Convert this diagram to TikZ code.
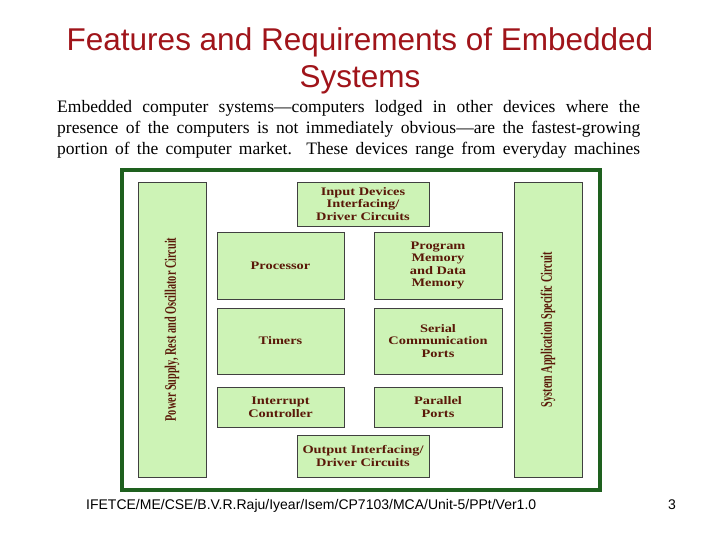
\documentclass[tikz,border=0pt]{standalone}
\usepackage{fontspec}
\setmainfont{Liberation Serif}
\newfontfamily\arialf{Liberation Sans}
\newfontfamily\boxf[FakeStretch=1.25]{Liberation Serif}
\newfontfamily\condf[FakeStretch=0.64]{Liberation Serif}
\definecolor{titlered}{HTML}{A0141A}
\definecolor{framegreen}{HTML}{1E601E}
\definecolor{boxfill}{HTML}{CDF3B6}
\definecolor{boxtext}{HTML}{5A1808}
\tikzset{
  blk/.style={draw=black!75, line width=0.9pt, fill=boxfill, inner sep=0pt, align=center,
    text=boxtext, font=\boxf\bfseries\fontsize{11.5}{12.6}\selectfont},
  vtext/.style={rotate=90, text=boxtext, inner sep=0pt, font=\condf\bfseries\fontsize{16}{18}\selectfont},
  para/.style={anchor=base west, inner sep=0pt, font=\fontsize{17.5}{21}\selectfont}
}
\begin{document}
\begin{tikzpicture}[x=1pt,y=-1pt]
\useasboundingbox[fill=white] (0,0) rectangle (720,540);
% title
\node[font=\arialf\fontsize{31.5}{37.5}\selectfont, text=titlered, align=center, inner sep=0pt] (title) at (360,61)
  {Features and Requirements of Embedded\\Systems};
% paragraph
\node[para] (p1) at (57,113) {\makebox[583pt][s]{Embedded computer systems---computers lodged in other devices where the}};
\node[para] (p2) at (57,134) {\makebox[583pt][s]{presence of the computers is not immediately obvious---are the fastest-growing}};
\node[para] (p3) at (57,155) {\makebox[583pt][s]{portion of the computer market. These devices range from everyday machines}};
% frame
\draw[framegreen, line width=4pt] (122,170) rectangle (600,490);
% side bars
\node[blk, minimum width=68, minimum height=295] (left) at (172,329.5) {};
\node[vtext] (lefttext) at (left.center) {Power Supply, Rest and Oscillator Circuit};
\node[blk, minimum width=68, minimum height=295] (right) at (548,329.5) {};
\node[vtext] (righttext) at (right.center) {System Application Specific Circuit};
% inner blocks
\node[blk, minimum width=132, minimum height=44] (input) at (363,204) {Input Devices\\Interfacing/\\Driver Circuits};
\node[blk, minimum width=127, minimum height=67] (proc) at (280.5,265.5) {Processor};
\node[blk, minimum width=128, minimum height=67] (mem) at (438,265.5) {Program\\Memory\\and Data\\Memory};
\node[blk, minimum width=127, minimum height=66] (timers) at (280.5,341) {Timers};
\node[blk, minimum width=128, minimum height=66] (serial) at (438,341) {Serial\\Communication\\Ports};
\node[blk, minimum width=127, minimum height=40] (intr) at (280.5,407) {Interrupt\\Controller};
\node[blk, minimum width=128, minimum height=40] (par) at (438,407) {Parallel\\Ports};
\node[blk, minimum width=132, minimum height=42] (output) at (363,456) {Output Interfacing/\\Driver Circuits};
% footer
\node[anchor=base west, inner sep=0pt, font=\arialf\fontsize{14}{16}\selectfont] (footer) at (86,509)
  {IFETCE/ME/CSE/B.V.R.Raju/Iyear/Isem/CP7103/MCA/Unit-5/PPt/Ver1.0};
\node[anchor=base west, inner sep=0pt, font=\arialf\fontsize{14}{16}\selectfont] (page) at (668,509) {3};
\end{tikzpicture}
\end{document}
